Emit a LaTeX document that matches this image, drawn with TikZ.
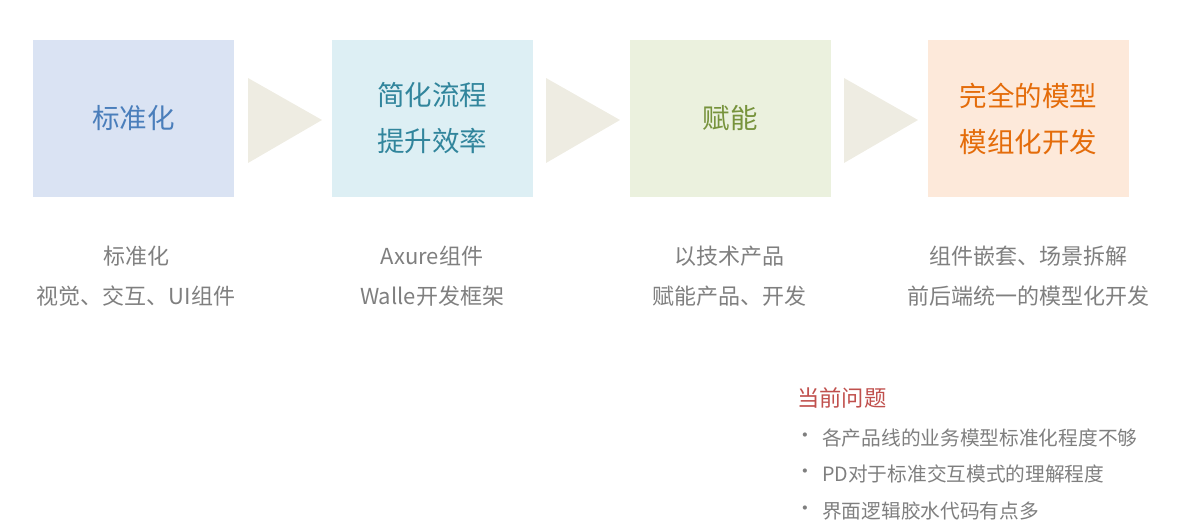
\documentclass[tikz,border=0pt]{standalone}
\usepackage{fontspec}
\setmainfont{Noto Sans CJK SC}
\definecolor{boxA}{HTML}{DAE3F3}
\definecolor{boxB}{HTML}{DDEFF4}
\definecolor{boxC}{HTML}{EBF1DE}
\definecolor{boxD}{HTML}{FDE9DA}
\definecolor{txtA}{HTML}{4A7EBB}
\definecolor{txtB}{HTML}{31859C}
\definecolor{txtC}{HTML}{77933C}
\definecolor{txtD}{HTML}{E46C0A}
\definecolor{triC}{HTML}{EEECE2}
\definecolor{grayT}{HTML}{7F7F7F}
\definecolor{redT}{HTML}{C0504D}
\tikzset{
  stage/.style={minimum width=201pt, minimum height=157pt, inner sep=0pt, align=center, font=\fontsize{27.5}{46}\selectfont},
  tri/.style={fill=triC, draw=none},
  desc/.style={text=grayT, align=center, font=\fontsize{22}{40}\selectfont, inner sep=0pt},
  item/.style={text=grayT, anchor=west, font=\fontsize{19.7}{22}\selectfont, inner sep=0pt},
}
\begin{document}
\begin{tikzpicture}[x=1pt,y=-1pt]
\useasboundingbox (0,0) rectangle (1177,522);
\node[stage, fill=boxA, text=txtA] (s1) at (133.5,118.5) {标准化};
\node[stage, fill=boxB, text=txtB] (s2) at (432,118.5) {简化流程\\提升效率};
\node[stage, fill=boxC, text=txtC] (s3) at (730,118.5) {赋能};
\node[stage, fill=boxD, text=txtD] (s4) at (1028.5,118.5) {完全的模型\\模组化开发};
\fill[tri] (248,78) -- (322,120) -- (248,163) -- cycle;
\fill[tri] (546,78) -- (620,120) -- (546,163) -- cycle;
\fill[tri] (844,78) -- (918,120) -- (844,163) -- cycle;
\node[desc] (d1) at (136,276) {标准化\\视觉、交互、UI组件};
\node[desc] (d2) at (432,276) {Axure组件\\Walle开发框架};
\node[desc] (d3) at (729,276) {以技术产品\\赋能产品、开发};
\node[desc] (d4) at (1028,276) {组件嵌套、场景拆解\\前后端统一的模型化开发};
\node[anchor=west, text=redT, font=\fontsize{22.3}{24}\selectfont, inner sep=0pt] (q) at (797,398) {当前问题};
\node[item] (b1) at (795,438) {•};
\node[item] (i1) at (822,438) {各产品线的业务模型标准化程度不够};
\node[item] (b2) at (795,474) {•};
\node[item] (i2) at (822,474) {PD对于标准交互模式的理解程度};
\node[item] (b3) at (795,511) {•};
\node[item] (i3) at (822,511) {界面逻辑胶水代码有点多};
\end{tikzpicture}
\end{document}
